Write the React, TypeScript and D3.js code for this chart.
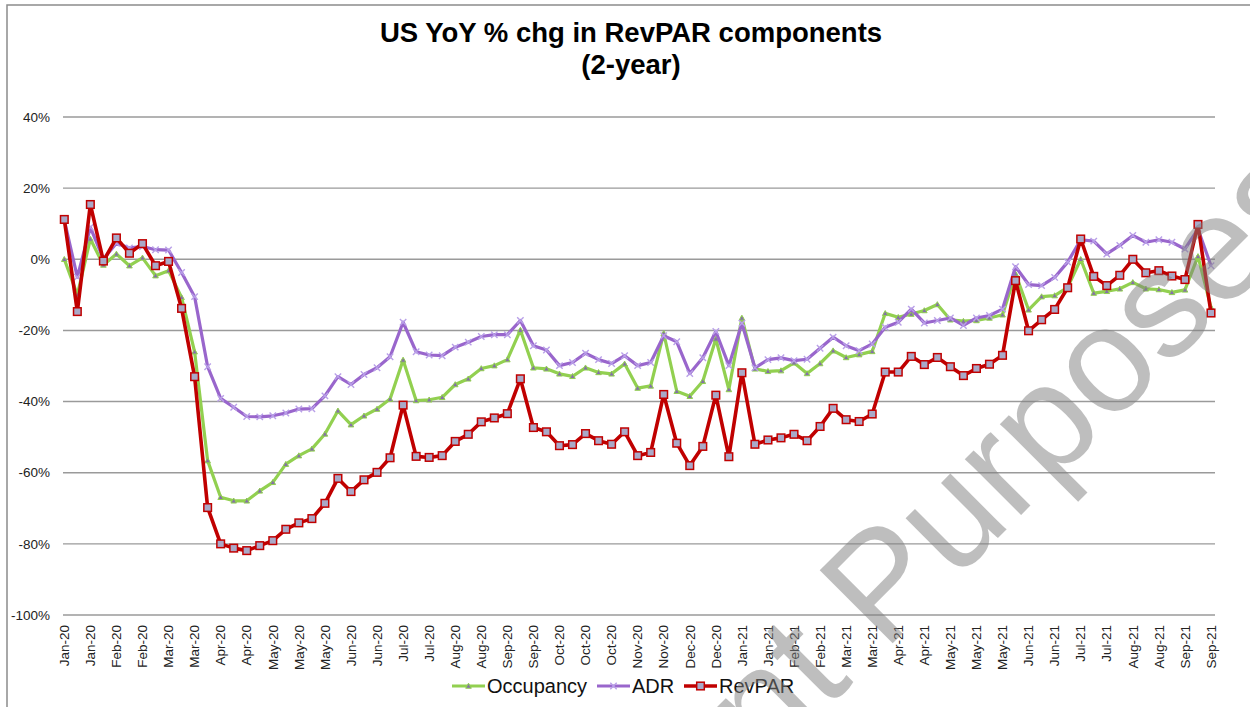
import React from 'react'
import * as d3 from 'd3'

// weekly points, labelled every second week
const tickLabels = ['Jan-20', 'Jan-20', 'Feb-20', 'Feb-20', 'Mar-20', 'Mar-20', 'Apr-20', 'Apr-20', 'May-20', 'May-20', 'May-20',
  'Jun-20', 'Jun-20', 'Jul-20', 'Jul-20', 'Aug-20', 'Aug-20', 'Sep-20', 'Sep-20', 'Oct-20', 'Oct-20', 'Oct-20',
  'Nov-20', 'Nov-20', 'Dec-20', 'Dec-20', 'Jan-21', 'Jan-21', 'Feb-21', 'Feb-21', 'Mar-21', 'Mar-21', 'Apr-21', 'Apr-21',
  'May-21', 'May-21', 'May-21', 'Jun-21', 'Jun-21', 'Jul-21', 'Jul-21', 'Aug-21', 'Aug-21', 'Sep-21', 'Sep-21']

const occupancy = [0.0, -10.0, 5.7, -1.6, 1.5, -1.8, 0.4, -4.6, -3.2, -10.7, -26.0, -56.6, -66.9, -67.9, -67.9, -65.1, -62.7, -57.6, -55.2, -53.3,
  -49.1, -42.6, -46.5, -44.0, -42.1, -39.3, -28.3, -39.7, -39.5, -38.8, -35.2, -33.6, -30.7, -29.9, -28.2, -19.9, -30.5, -30.8, -32.2, -32.9,
  -30.5, -31.8, -32.2, -29.4, -36.2, -35.6, -20.8, -37.1, -38.5, -34.3, -22.4, -36.6, -16.5, -30.8, -31.5, -31.3, -29.1, -32.1, -29.3, -25.7,
  -27.6, -26.8, -25.9, -15.2, -16.3, -15.4, -14.4, -12.7, -17.0, -17.4, -17.2, -16.5, -15.6, -4.1, -14.2, -10.5, -10.2, -7.9, 0.0, -9.5,
  -9.0, -8.3, -6.5, -8.3, -8.5, -9.3, -8.6, 0.8, -13.5]

const adr = [11.0, -5.0, 9.0, 0.1, 4.5, 3.2, 3.6, 2.7, 2.6, -3.7, -10.5, -30.2, -39.1, -41.6, -44.2, -44.3, -44.0, -43.2, -42.1, -42.0,
  -38.4, -33.0, -35.2, -32.4, -30.5, -27.4, -17.7, -26.0, -26.9, -27.1, -24.7, -23.3, -21.7, -21.2, -21.2, -17.2, -24.3, -25.5, -29.9, -29.0,
  -26.4, -28.2, -29.3, -27.1, -29.9, -29.0, -21.5, -23.2, -32.1, -27.7, -20.3, -29.9, -18.0, -30.5, -28.2, -27.7, -28.5, -28.1, -25.0, -21.9,
  -24.3, -25.7, -23.8, -19.1, -17.7, -14.0, -17.9, -17.2, -16.5, -18.6, -16.5, -15.8, -14.0, -2.1, -7.1, -7.4, -5.1, -0.8, 5.5, 5.1,
  1.5, 3.9, 6.7, 4.8, 5.5, 4.8, 2.9, 8.5, -1.8]

const revpar = [11.2, -14.7, 15.4, -0.5, 6.0, 1.7, 4.4, -1.8, -0.6, -13.8, -33.0, -69.8, -80.0, -81.2, -81.9, -80.5, -79.1, -75.9, -74.1, -72.9,
  -68.6, -61.6, -65.3, -62.0, -59.9, -55.8, -41.0, -55.4, -55.7, -55.2, -51.2, -49.2, -45.7, -44.6, -43.4, -33.6, -47.3, -48.5, -52.4, -52.1,
  -49.0, -51.0, -52.0, -48.5, -55.2, -54.3, -38.0, -51.7, -58.0, -52.6, -38.2, -55.5, -31.9, -52.0, -50.8, -50.2, -49.2, -51.0, -47.0, -41.9,
  -45.1, -45.6, -43.5, -31.7, -31.7, -27.3, -29.6, -27.6, -30.2, -32.7, -30.7, -29.5, -27.0, -6.0, -20.1, -17.0, -14.1, -8.0, 5.7, -4.8,
  -7.4, -4.5, 0.0, -3.8, -3.2, -4.7, -5.7, 9.8, -15.1]

const yTicks = [-100, -80, -60, -40, -20, 0, 20, 40]

const FONT = '"Liberation Sans", Arial, sans-serif'
const GREEN = '#92D050'
const PURPLE = '#9966CC'
const RED = '#C00000'

function triangle(cx: number, cy: number, s: number) {
  return `M${cx},${cy - s} L${cx + s},${cy + s * 0.8} L${cx - s},${cy + s * 0.8} Z`
}

function Marker({ kind, cx, cy }: { kind: string, cx: number, cy: number }) {
  if (kind === 'tri') {
    return <path d={triangle(cx, cy, 2.8)} fill="#8470a8" stroke={GREEN} strokeWidth={1} />
  }
  if (kind === 'x') {
    const s = 3.2
    return <path d={`M${cx - s},${cy - s}L${cx + s},${cy + s}M${cx - s},${cy + s}L${cx + s},${cy - s}`} stroke="#b9a0e8" strokeWidth={1.4} />
  }
  return <rect x={cx - 3.8} y={cy - 3.8} width={7.6} height={7.6} fill="#a9a9c8" stroke={RED} strokeWidth={1.5} />
}

export default function App() {
  const x = d3.scaleLinear().domain([0, revpar.length - 1]).range([64.3, 1211])
  const y = d3.scaleLinear().domain([-100, 40]).range([615, 117])
  const line = d3.line<number>().x((d, i) => x(i)).y(d => y(d))

  const series = [
    { name: 'Occupancy', data: occupancy, color: GREEN, kind: 'tri', width: 3.2, lx: 452 },
    { name: 'ADR', data: adr, color: PURPLE, kind: 'x', width: 3.2, lx: 597 },
    { name: 'RevPAR', data: revpar, color: RED, kind: 'sq', width: 3.6, lx: 684 }
  ]

  const wmSize = 150

  return (
    <svg width={1250} height={707} style={{ position: 'absolute', left: 0, top: 0, display: 'block', background: '#fff' }} fontFamily={FONT}>
      <rect x={7} y={5} width={1300} height={760} fill="#fff" stroke="#8c8c8c" strokeWidth={1.5} />

      <text x={631} y={42} textAnchor="middle" fontSize={27.5} fontWeight="bold">US YoY % chg in RevPAR components</text>
      <text x={631} y={74} textAnchor="middle" fontSize={27.5} fontWeight="bold">(2-year)</text>

      {/* grid + y axis */}
      <g>
        {yTicks.map(t => (
          <g key={t}>
            <line x1={63} x2={1215} y1={y(t)} y2={y(t)} stroke="#9a9a9a" strokeWidth={1.4} />
            <text x={50} y={y(t)} dy="0.35em" textAnchor="end" fontSize={13.5} fill="#222">{t}%</text>
          </g>
        ))}
      </g>

      {/* x labels */}
      <g>
        {tickLabels.map((lab, i) => (
          <text key={i} transform={`translate(${x(i * 2)},625) rotate(-90)`} dy="0.35em" textAnchor="end" fontSize={13.5} fill="#222">{lab}</text>
        ))}
      </g>

      {/* series */}
      {series.map(s => (
        <g key={s.name}>
          <path d={line(s.data) || ''} fill="none" stroke={s.color} strokeWidth={s.width} strokeLinejoin="round" />
          {s.data.map((v, i) => <Marker key={i} kind={s.kind} cx={x(i)} cy={y(v)} />)}
        </g>
      ))}

      {/* legend */}
      <g>
        {series.map(s => (
          <g key={s.name}>
            <line x1={s.lx} x2={s.lx + 33} y1={686} y2={686} stroke={s.color} strokeWidth={s.width} />
            <Marker kind={s.kind} cx={s.lx + 16.5} cy={686} />
            <text x={s.lx + 35} y={686} dy="0.36em" fontSize={20} fill="#111">{s.name}</text>
          </g>
        ))}
      </g>

      {/* watermark */}
      <g transform="translate(884,652) rotate(-45)" fill="#7f7f7f" opacity={0.5} fontSize={wmSize} fontFamily={FONT}>
        <text x={-0.278 * wmSize} y={0} textAnchor="end">For Client</text>
        <text x={0} y={0}>Purposes</text>
      </g>
    </svg>
  )
}
